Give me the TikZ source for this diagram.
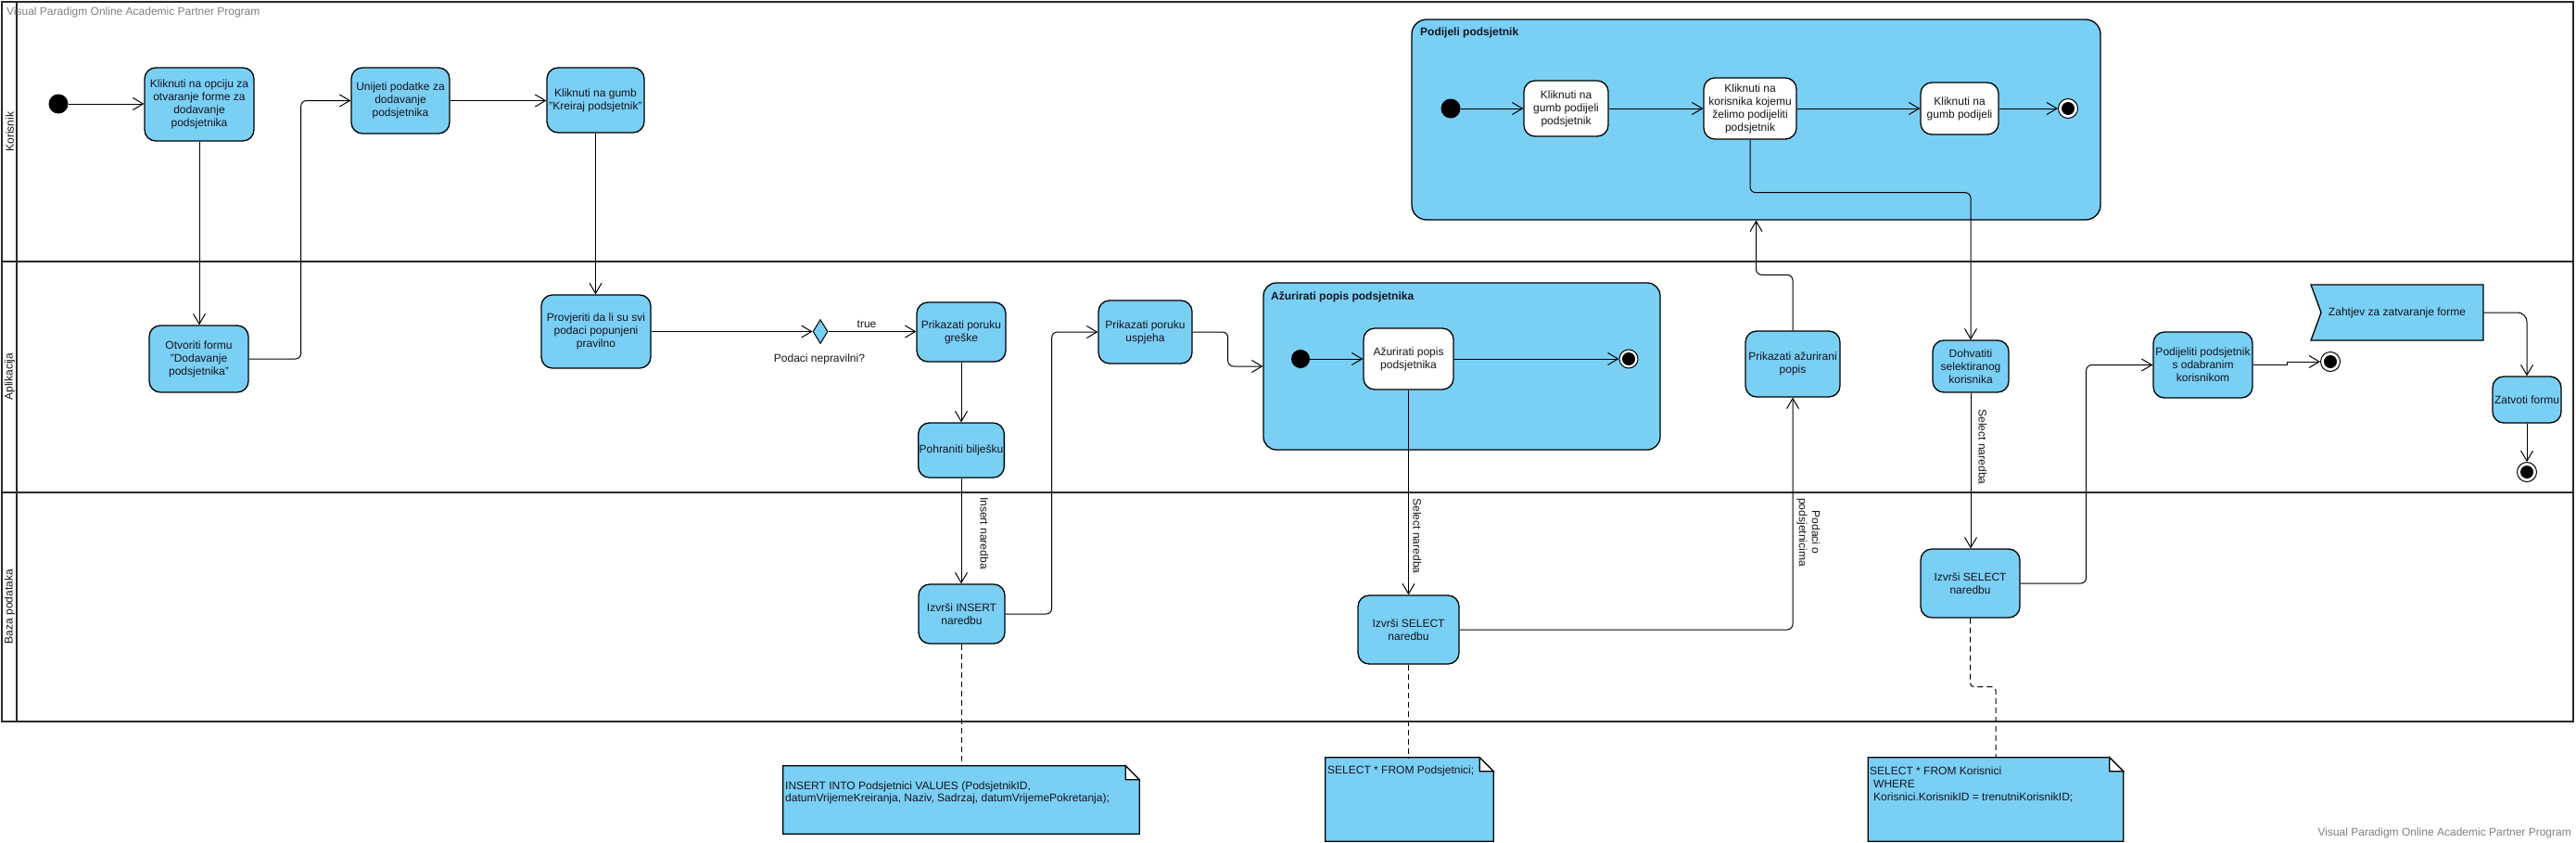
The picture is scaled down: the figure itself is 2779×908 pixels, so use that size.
\documentclass[tikz,border=0pt]{standalone}
\usepackage{fontspec}
\setmainfont{Liberation Sans}
\usetikzlibrary{arrows.meta,shapes.geometric,calc}
\definecolor{actblue}{RGB}{122,207,245}
\definecolor{lanecol}{RGB}{40,40,40}
\definecolor{wmark}{RGB}{128,128,128}
\definecolor{txt}{RGB}{20,20,30}
\begin{document}
\begin{tikzpicture}[x=1pt,y=-1pt,font=\fontsize{12}{14}\selectfont,
 act/.style={draw=black, fill=actblue, rounded corners=12pt, line width=1.3pt, align=center, inner sep=1pt, text=txt},
 wact/.style={act, fill=white},
 cont/.style={draw=black, fill=actblue, rounded corners=16pt, line width=1.3pt, inner sep=0pt},
 initnode/.style={circle, fill=black, minimum size=21pt, inner sep=0pt},
 finalnode/.style={circle, draw=black, fill=white, line width=1pt, minimum size=21pt, inner sep=0pt, path picture={\fill[black] (path picture bounding box.center) circle (7pt);}},
 flow/.style={draw=black, line width=1pt, rounded corners=6pt, -{Straight Barb[length=11pt,width=13pt,line width=1pt]}},
 dep/.style={draw=black, line width=1pt, dash pattern=on 6pt off 4pt, rounded corners=4pt},
 lane/.style={draw=lanecol, line width=2.6pt},
 lbl/.style={text=txt, inner sep=0pt},
 notebg/.style={draw=black, fill=actblue, line width=1.2pt},
 flap/.style={draw=black, fill=white, line width=1.2pt},
 sz/.style 2 args={minimum width=#1, minimum height=#2},
]
\useasboundingbox (0,0) rectangle (2779,908);
\fill[white] (0,0) rectangle (2779,908);

% swimlanes
\draw[lane] (2,2) rectangle (2776,778);
\draw[lane] (18,2) -- (18,778);
\draw[lane] (2,282) -- (2776,282);
\draw[lane] (2,531) -- (2776,531);
\node[lbl, rotate=90] (L1) at (10.5,142) {Korisnik};
\node[lbl, rotate=90] (L2) at (10.5,406) {Aplikacija};
\node[lbl, rotate=90] (L3) at (10.5,654) {Baza podataka};

% watermarks
\node[lbl, text=wmark, anchor=base west] (wm1) at (7,16) {Visual Paradigm Online Academic Partner Program};
\node[lbl, text=wmark, anchor=base east] (wm2) at (2774,901) {Visual Paradigm Online Academic Partner Program};

% containers
\node[cont, sz={743pt}{216pt}] (P) at (1894.5,129) {};
\node[lbl, font=\fontsize{12}{14}\selectfont\bfseries, anchor=base west] (Pt) at (1532,38) {Podijeli podsjetnik};
\node[cont, rounded corners=14pt, sz={428pt}{180pt}] (AZ) at (1577,395) {};
\node[lbl, font=\fontsize{12}{14}\selectfont\bfseries, anchor=base west] (AZt) at (1371,323) {Ažurirati popis podsjetnika};

% Korisnik lane
\node[initnode] (I1) at (63,112) {};
\node[act, sz={118pt}{79pt}] (A1) at (215,112.5) {Kliknuti na opciju za\\otvaranje forme za\\dodavanje\\podsjetnika};
\node[act, sz={106pt}{71pt}] (A2) at (432,108.5) {Unijeti podatke za\\dodavanje\\podsjetnika};
\node[act, sz={105pt}{70pt}] (A3) at (642.5,108) {Kliknuti na gumb\\"Kreiraj podsjetnik"};

\node[initnode] (pi) at (1565,117) {};
\node[wact, sz={91pt}{60pt}] (K1) at (1689.5,117) {Kliknuti na\\gumb podijeli\\podsjetnik};
\node[wact, sz={100pt}{66pt}] (K2) at (1888,117) {Kliknuti na\\korisnika kojemu\\želimo podijeliti\\podsjetnik};
\node[wact, sz={84pt}{56pt}] (K3) at (2114,117) {Kliknuti na\\gumb podijeli};
\node[finalnode] (pf) at (2231,117) {};

% Aplikacija lane
\node[act, sz={107pt}{72pt}] (B1) at (214.5,387) {Otvoriti formu\\"Dodavanje\\podsjetnika"};
\node[act, sz={118pt}{79pt}] (B2) at (643,357.5) {Provjeriti da li su svi\\podaci popunjeni\\pravilno};
\node[diamond, draw=black, fill=actblue, line width=1pt, minimum width=16pt, minimum height=26pt, inner sep=0pt] (D) at (885,357.5) {};
\node[lbl, anchor=base] (Dl) at (884,390) {Podaci nepravilni?};
\node[act, sz={96pt}{64pt}] (B3) at (1037,358) {Prikazati poruku\\greške};
\node[act, sz={92pt}{59pt}] (B4) at (1037,485.5) {Pohraniti bilješku};
\node[act, sz={101pt}{68pt}] (B5) at (1235.5,358) {Prikazati poruku\\uspjeha};
\node[initnode, minimum size=20pt] (ai) at (1403,387) {};
\node[wact, sz={97pt}{66pt}] (az1) at (1519.5,387) {Ažurirati popis\\podsjetnika};
\node[finalnode, minimum size=20pt] (af) at (1757,387) {};
\node[act, sz={102pt}{71pt}] (B6) at (1934,392.5) {Prikazati ažurirani\\popis};
\node[act, sz={82pt}{56pt}] (B7) at (2126,395) {Dohvatiti\\selektiranog\\korisnika};
\node[act, sz={107pt}{71pt}] (B8) at (2376.5,393.5) {Podijeliti podsjetnik\\s odabranim\\korisnikom};
\node[finalnode] (F3) at (2514,390) {};
\path[draw=black, fill=actblue, line width=1.3pt] (2493,307) -- (2679,307) -- (2679,367) -- (2493,367) -- (2504,337) -- cycle;
\node[lbl, sz={186pt}{60pt}] (Z) at (2586,337) {Zahtjev za zatvaranje forme};
\node[act, sz={74pt}{50pt}] (B9) at (2726,431) {Zatvoti formu};
\node[finalnode] (F4) at (2726,509) {};

% Baza podataka lane
\node[act, sz={93pt}{64pt}] (C1) at (1037.5,662) {Izvrši INSERT\\naredbu};
\node[act, sz={109pt}{74pt}] (C2) at (1519.5,679) {Izvrši SELECT\\naredbu};
\node[act, sz={107pt}{74pt}] (C3) at (2125.5,629) {Izvrši SELECT\\naredbu};

% notes
\node[inner sep=0pt, sz={384pt}{73pt}] (N1) at (1037,862.5) {};
\draw[notebg] (N1.north west) -- ($(N1.north east)+(-15,0)$) -- ($(N1.north east)+(0,15)$) -- (N1.south east) -- (N1.south west) -- cycle;
\draw[flap] ($(N1.north east)+(-15,0)$) -- ($(N1.north east)+(0,15)$) -- ($(N1.north east)+(-15,15)$) -- cycle;
\node[lbl, anchor=base west] (N1a) at (847,851) {INSERT INTO Podsjetnici VALUES (PodsjetnikID,};
\node[lbl, anchor=base west] (N1b) at (847,864.5) {datumVrijemeKreiranja, Naziv, Sadrzaj, datumVrijemePokretanja);};

\node[inner sep=0pt, sz={181pt}{90pt}] (N2) at (1520.5,862) {};
\draw[notebg] (N2.north west) -- ($(N2.north east)+(-15,0)$) -- ($(N2.north east)+(0,15)$) -- (N2.south east) -- (N2.south west) -- cycle;
\draw[flap] ($(N2.north east)+(-15,0)$) -- ($(N2.north east)+(0,15)$) -- ($(N2.north east)+(-15,15)$) -- cycle;
\node[lbl, anchor=base west] (N2a) at (1432,834) {SELECT * FROM Podsjetnici;};

\node[inner sep=0pt, sz={275pt}{90pt}] (N3) at (2153,862) {};
\draw[notebg] (N3.north west) -- ($(N3.north east)+(-15,0)$) -- ($(N3.north east)+(0,15)$) -- (N3.south east) -- (N3.south west) -- cycle;
\draw[flap] ($(N3.north east)+(-15,0)$) -- ($(N3.north east)+(0,15)$) -- ($(N3.north east)+(-15,15)$) -- cycle;
\node[lbl, anchor=base west] (N3a) at (2017,835) {SELECT * FROM Korisnici};
\node[lbl, anchor=base west] (N3b) at (2021,849) {WHERE};
\node[lbl, anchor=base west] (N3c) at (2021,863) {Korisnici.KorisnikID = trenutniKorisnikID;};

% connectors
\draw[flow] (I1) -- (I1 -| A1.west);
\draw[flow] (A1.south) -- (A1.south |- B1.north);
\draw[flow] (B1.east) -- ++(56,0) |- (A2.west);
\draw[flow] (A2.east) -- (A2.east -| A3.west);
\draw[flow] (A3.south) -- (A3.south |- B2.north);
\draw[flow] (B2.east) -- (D.west);
\draw[flow] (D.east) -- (D.east -| B3.west);
\node[lbl, anchor=base] (tl) at (935,353) {true};
\draw[flow] (B3.south) -- (B3.south |- B4.north);
\draw[flow] (B4.south) -- (B4.south |- C1.north);
\node[lbl, rotate=-90] (il) at (1062,575) {Insert naredba};
\draw[flow] (C1.east) -- ++(50,0) |- (B5.west);
\draw[flow] (B5.east) -- ++(38,0) |- (AZ.west);
\draw[flow] (ai) -- (az1);
\draw[flow] (az1) -- (af);
\draw[flow] (az1.south) -- (az1.south |- C2.north);
\node[lbl, rotate=-90] (sl1) at (1529,578) {Select naredba};
\draw[flow] (C2.east) -| (B6.south);
\node[lbl, rotate=-90, align=center] (pl) at (1951,574) {Podaci o\\podsjetnicima};
\draw[flow] (B6.north) -- ++(0,-60) -| (P.south);
\draw[flow] (pi) -- (K1);
\draw[flow] (K1) -- (K2);
\draw[flow] (K2) -- (K3);
\draw[flow] (K3) -- (pf);
\draw[flow] (K2.south) -- ++(0,57) -| (B7.north);
\draw[flow] (B7.south) -- (B7.south |- C3.north);
\node[lbl, rotate=-90] (sl2) at (2139,482) {Select naredba};
\draw[flow] (C3.east) -- ++(71,0) |- (B8.west);
\draw[flow, sharp corners] (B8.east) -- ++(37,0) |- (F3.west);
\draw[flow, rounded corners=10pt] (Z.east) -| (B9.north);
\draw[flow] (B9.south) -- (F4.north);
\draw[dep] (C1.south) -- (C1.south |- N1.north);
\draw[dep] (C2.south) -- (C2.south |- N2.north);
\draw[dep] (C3.south) -- ++(0,74) -| (N3.north);
\end{tikzpicture}
\end{document}
